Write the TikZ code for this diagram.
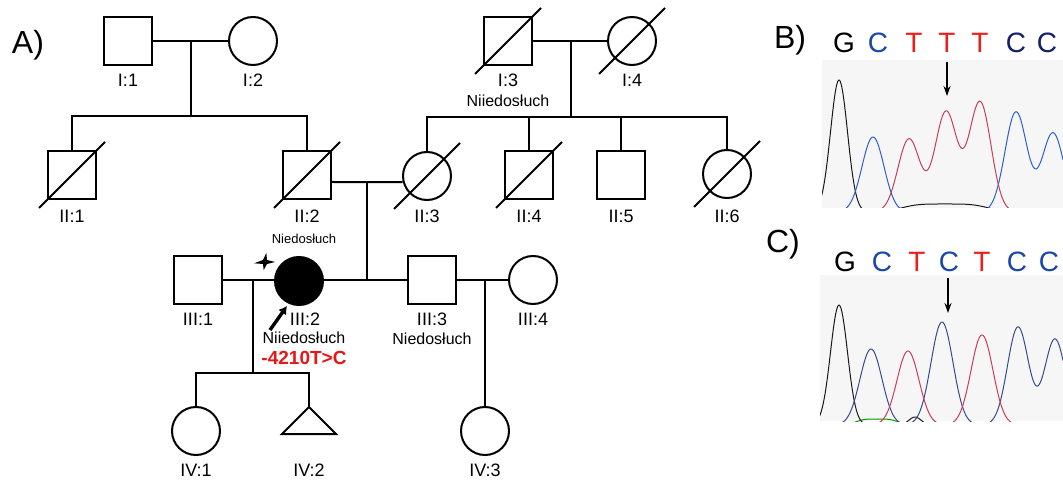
\documentclass[tikz,border=0pt]{standalone}
\usepackage{fontspec}
\setmainfont{Liberation Sans}
\usetikzlibrary{arrows.meta, calc}
\definecolor{mutRed}{RGB}{232,22,22}
\definecolor{baseT}{RGB}{235,30,30}
\definecolor{baseC}{RGB}{25,70,170}
\definecolor{baseCd}{RGB}{20,30,105}
\definecolor{traceR}{RGB}{205,60,90}
\definecolor{traceB}{RGB}{45,95,205}
\definecolor{traceBd}{RGB}{55,75,145}
\definecolor{traceK}{RGB}{25,25,25}
\definecolor{chromBg}{RGB}{246,246,246}

\begin{document}
\begin{tikzpicture}[x=1pt, y=-1pt, line width=2pt,
  male/.style={draw, minimum size=48pt, inner sep=0pt},
  female/.style={draw, circle, minimum size=48pt, inner sep=0pt},
  lbl/.style={font=\fontsize{18}{20}\selectfont},
  diag/.style={font=\fontsize{16}{18}\selectfont},
  note/.style={font=\fontsize{13}{15}\selectfont},
  base/.style={font=\fontsize{28}{30}\selectfont},
  panel/.style={font=\fontsize{32}{34}\selectfont},
  trace/.style={line width=1pt, line join=round},
  declare function={pk(\p,\m,\s)=exp(-min(0.5*((\p-\m)/\s)*((\p-\m)/\s),16));
    fl(\p,\m,\s)=exp(-min(((\p-\m)/\s)*((\p-\m)/\s)*((\p-\m)/\s)*((\p-\m)/\s),16));}]
\useasboundingbox (0,0) rectangle (1063,481);
% panel A: pedigree
\node[panel] (labA) at (28,45) {A)};
% generation I
\node[male] (I1) at (128,41) {};
\node[female] (I2) at (253,41) {};
\node[male] (I3) at (508,41) {};
\node[female] (I4) at (632,41) {};
\node[lbl] (I1l) at (128,80) {I:1};
\node[lbl] (I2l) at (253,80) {I:2};
\node[lbl] (I3l) at (508,80) {I:3};
\node[diag] (I3n) at (508,101) {Niiedosłuch};
\node[lbl] (I4l) at (632,80) {I:4};
% generation II
\node[male] (II1) at (72,175) {};
\node[male] (II2) at (307,175) {};
\node[female] (II3) at (427,176) {};
\node[male] (II4) at (529,175) {};
\node[male] (II5) at (621,175) {};
\node[female] (II6) at (727,174) {};
\foreach \n/\t in {II1/II:1, II2/II:2, II3/II:3, II4/II:4, II5/II:5, II6/II:6}
  \node[lbl] (\n l) at (\n |- 0,216) {\t};
% deceased
\foreach \n in {I3,I4,II1,II2,II3,II4,II6}
  \draw ($(\n)+(-33,33)$) -- ($(\n)+(33,-33)$);
% couple I:1 -- I:2 and their children
\draw (I1) -- (I2);
\coordinate (m1) at (191,41);
\coordinate (s1) at (191,116);
\draw (m1) -- (s1);
\draw (II1.north) -- (II1 |- s1) -- (II2 |- s1) -- (II2.north);
% couple I:3 -- I:4 and their children
\draw (I3) -- (I4);
\coordinate (m2) at (571,41);
\coordinate (s2) at (571,117);
\draw (m2) -- (s2);
\draw (II3.north) -- (II3 |- s2) -- (II6 |- s2) -- (II6.north);
\draw (II4 |- s2) -- (II4.north);
\draw (II5 |- s2) -- (II5.north);
% generation III
\node[male] (III1) at (198,280) {};
\node[female, fill] (III2) at (299,281) {};
\node[male] (III3) at (432,280) {};
\node[female] (III4) at (533,280) {};
\node[note] (III2h) at (304,239) {Niedosłuch};
\node[lbl] (III1l) at (198,319) {III:1};
\node[lbl] (III2l) at (305,319) {III:2};
\node[diag] (III2n) at (304,338) {Niiedosłuch};
\node[font=\fontsize{19}{21}\selectfont\bfseries, text=mutRed] (III2m) at (304,358) {-4210T>C};
\node[lbl] (III3l) at (432,319) {III:3};
\node[diag] (III3n) at (432,339) {Niedosłuch};
\node[lbl] (III4l) at (533,319) {III:4};
% couple II:2 -- II:3
\draw ($(II2.east)+(0,7)$) -- (II3.194);
\coordinate (m3) at (367,182);
\draw (m3) -- (m3 |- 0,280);
\draw (III1) -- (III2.west |- III1);
\draw (III2.east |- III3) -- (III3);
\draw (III3) -- (III4);
% proband arrow and star
\coordinate (pa) at (270,330);
\coordinate (pb) at (287,306);
\draw[line width=3.4pt, -{Latex[length=8pt, width=10pt]}] (pa) -- (pb);
\coordinate (star) at (265,262);
\fill (star) +(1.3,-9) -- +(2,-2) -- +(10,0) -- +(2,2) -- +(-1.3,8)
  -- +(-2,2) -- +(-11,1.3) -- +(-2,-2) -- cycle;
% generation IV
\node[female] (IV1) at (196,431) {};
\coordinate (IV2) at (309,407);
\node[female] (IV3) at (485,431) {};
\draw[line join=miter] (IV2) -- ++(27,27) -- ++(-54,0) -- cycle;
\foreach \n/\t in {IV1/IV:1, IV2/IV:2, IV3/IV:3}
  \node[lbl, inner sep=1pt] (\n l) at (\n |- 0,470) {\t};
\coordinate (m4) at (253,280);
\coordinate (s4) at (253,373);
\draw (m4) -- (s4);
\draw (IV1.north) -- (IV1 |- s4) -- (IV2 |- s4) -- (IV2);
\coordinate (m5) at (485,280);
\draw (m5) -- (IV3.north);
% panel B: wild type
\node[panel] (labB) at (790,40) {B)};
\foreach \x/\b/\c in {844/G/black, 878/C/baseC, 914/T/baseT, 947/T/baseT,
    980/T/baseT, 1016/C/baseCd, 1047/C/baseCd}
  \node[base, text=\c] (B\x) at (\x,43) {\b};
\begin{scope}
  \clip (822,60) rectangle (1063,208);
  \fill[chromBg] (822,60) rectangle (1063,208);
  \draw[trace, traceK] plot[domain=818:1063, samples=240]
    (\x, {212-132*pk(\x,839,8.5)-8*fl(\x,945,48)});
  \draw[trace, traceB] plot[domain=818:1063, samples=240]
    (\x, {212-75*pk(\x,873,11)-100*pk(\x,1016,11)-79*pk(\x,1053,11)});
  \draw[trace, traceR] plot[domain=818:1063, samples=240]
    (\x, {212-73*pk(\x,909,11)-100*pk(\x,946,11)-110*pk(\x,980,11)});
\end{scope}
\coordinate (arB0) at (947,62);
\coordinate (arB1) at (947,96);
\draw[line width=1.8pt, -{Stealth[length=10pt, width=7pt]}] (arB0) -- (arB1);
% panel C: mutation
\node[panel] (labC) at (783,244) {C)};
\foreach \x/\b/\c in {845/G/black, 882/C/baseC, 917/T/baseT, 949/C/baseC,
    982/T/baseT, 1017/C/baseC, 1049/C/baseC}
  \node[base, text=\c] (C\x) at (\x,262) {\b};
\begin{scope}
  \clip (820,275) rectangle (1063,421);
  \fill[chromBg] (820,275) rectangle (1063,421);
  \draw[trace, green!60!black] plot[domain=845:910, samples=60]
    (\x, {424-5*fl(\x,877,22)});
  \draw[trace, traceK] plot[domain=816:1063, samples=240]
    (\x, {425-120*pk(\x,839,8.5)-8*pk(\x,915,6)});
  \draw[trace, traceBd] plot[domain=816:1063, samples=240]
    (\x, {425-76*pk(\x,871,11)-103*pk(\x,942,11)-98*pk(\x,1018,10.5)-86*pk(\x,1055,10.5)});
  \draw[trace, traceR] plot[domain=816:1063, samples=240]
    (\x, {425-74*pk(\x,908,11)-90*pk(\x,982,11)});
\end{scope}
\coordinate (arC0) at (948,278);
\coordinate (arC1) at (948,313);
\draw[line width=1.8pt, -{Stealth[length=10pt, width=7pt]}] (arC0) -- (arC1);
\end{tikzpicture}
\end{document}
